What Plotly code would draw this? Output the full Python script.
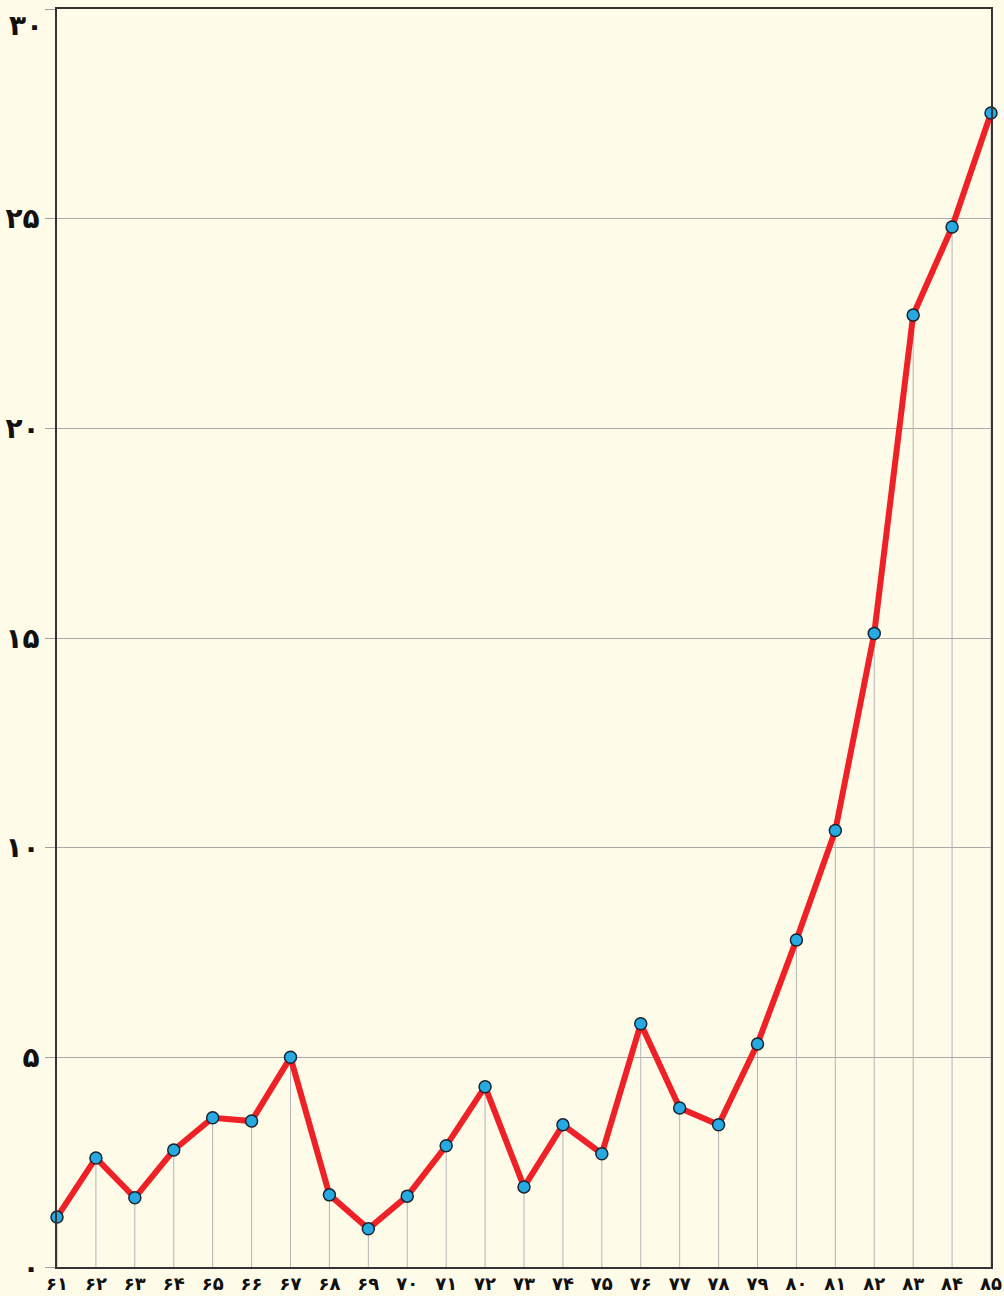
import plotly.graph_objects as go

years = list(range(61, 86))
values = [1.19, 2.60, 1.65, 2.79, 3.56, 3.48, 5.00, 1.72, 0.91, 1.69,
          2.89, 4.30, 1.91, 3.39, 2.70, 5.80, 3.79, 3.39, 5.32, 7.80,
          10.41, 15.11, 22.70, 24.80, 27.52]
x_ticktext = ["۶۱", "۶۲", "۶۳", "۶۴", "۶۵", "۶۶", "۶۷", "۶۸", "۶۹", "۷۰",
              "۷۱", "۷۲", "۷۳", "۷۴", "۷۵", "۷۶", "۷۷", "۷۸", "۷۹", "۸۰",
              "۸۱", "۸۲", "۸۳", "۸۴", "۸۵"]
y_tickvals = [0, 5, 10, 15, 20, 25, 30]
y_ticktext = ["۰", "۵", "۱۰", "۱۵", "۲۰", "۲۵", "۳۰"]

# drop lines from each point to the axis
dx, dy = [], []
for xv, yv in zip(years, values):
    dx += [xv, xv, None]
    dy += [0, yv, None]

fig = go.Figure()
fig.add_trace(go.Scatter(x=dx, y=dy, mode="lines",
                         line=dict(color="#B4B4B8", width=1),
                         hoverinfo="skip", showlegend=False))
fig.add_trace(go.Scatter(x=years, y=values, mode="lines+markers",
                         line=dict(color="#EE2126", width=6),
                         marker=dict(size=12, color="#27AAE1",
                                     line=dict(color="#1B2530", width=1.5)),
                         cliponaxis=False, showlegend=False))

bg = "#FFFBE9"
yfont = dict(family="DejaVu Sans", size=28, color="#111111", weight="bold")
# top label is drawn just below its tick (as in the original) so it is not cut off
shown_yticktext = y_ticktext[:-1] + [""]
fig.add_annotation(x=0, xref="paper", xanchor="right", xshift=-12,
                   y=y_tickvals[-1], yref="y", yanchor="top", yshift=2,
                   text=y_ticktext[-1], showarrow=False, font=yfont)

fig.update_layout(
    width=1004, height=1296,
    margin=dict(l=57, r=13, t=9, b=29, autoexpand=False),
    paper_bgcolor=bg, plot_bgcolor=bg,
    showlegend=False,
)
fig.update_xaxes(range=[61, 85], tickmode="array", tickvals=years,
                 ticktext=x_ticktext, showgrid=False, zeroline=False,
                 showline=True, linecolor="#333333", linewidth=1.5, mirror=True,
                 ticks="", ticklabeloverflow="allow", automargin=False,
                 ticklabelstandoff=0,
                 tickfont=dict(family="DejaVu Sans", size=18,
                               color="#111111", weight="bold"))
fig.update_yaxes(range=[0, 30], tickmode="array", tickvals=y_tickvals,
                 ticktext=shown_yticktext, showgrid=True, gridcolor="#A9A9A9",
                 gridwidth=1, zeroline=False,
                 showline=True, linecolor="#333333", linewidth=1.5, mirror=True,
                 ticks="outside", ticklen=10, tickcolor="#A0A0A0",
                 ticklabeloverflow="allow", automargin=False,
                 tickfont=yfont)

fig.write_html("out.html", config={"displayModeBar": False},
               post_script="document.body.style.margin='0';document.body.style.overflow='hidden';document.body.style.background='%s';" % bg)
